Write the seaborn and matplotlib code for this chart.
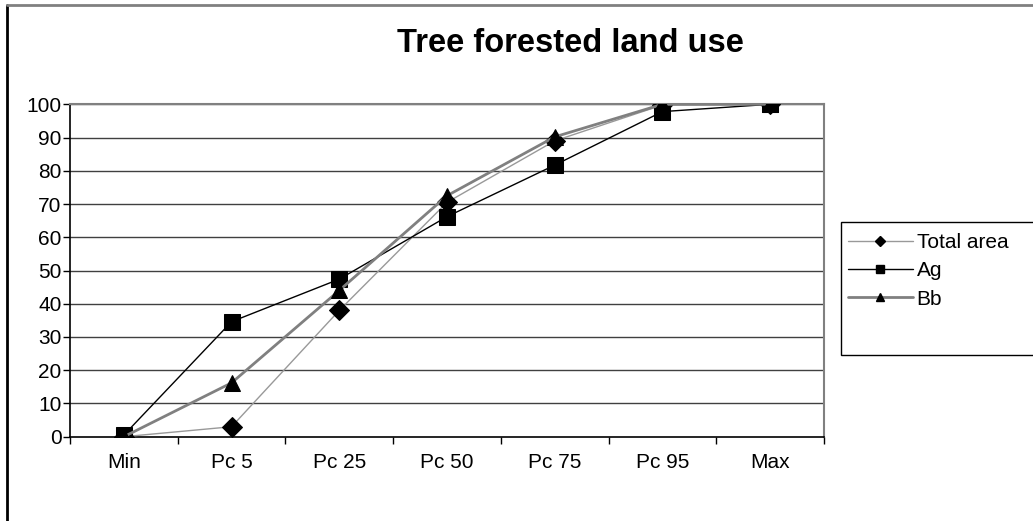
import numpy as np
import pandas as pd
import matplotlib
matplotlib.use("Agg")
import matplotlib.pyplot as plt
from matplotlib.lines import Line2D
from matplotlib.patches import Rectangle
import seaborn as sns

categories = ["Min", "Pc 5", "Pc 25", "Pc 50", "Pc 75", "Pc 95", "Max"]
total_area = [0, 3, 38, 70.5, 89, 99.8, 100]
ag = [0.5, 34.6, 47.4, 66.2, 81.7, 97.8, 100]
bb = [0, 16.2, 44, 72.5, 90.2, 100, 100]
yticks = list(range(0, 101, 10))

sns.set_style("white")
plt.rcParams['font.family'] = ['Liberation Sans', 'DejaVu Sans']
plt.rcParams['text.color'] = 'black'
plt.rcParams['xtick.color'] = 'black'
plt.rcParams['ytick.color'] = 'black'

W, H = 1033, 521
fig = plt.figure(figsize=(W / 100, H / 100), dpi=100)
ax = fig.add_axes([70 / W, 1 - 436.7 / H, (824 - 70) / W, (436.7 - 104.3) / H])

# series: (values, line colour, line width, marker, marker size)
series = [
    ("Total area", total_area, "#999999", 1.0, "D", 10),
    ("Ag", ag, "black", 1.0, "s", 11),
    ("Bb", bb, "#808080", 2.0, "^", 11),
]
df = pd.DataFrame({"cat": categories})
handles = []
for name, vals, col, lw, mk, ms in series:
    df[name] = vals
    sns.lineplot(data=df, x="cat", y=name, ax=ax, color=col, linewidth=lw,
                 marker=mk, markersize=ms, markerfacecolor="black",
                 markeredgecolor="black", sort=False, zorder=3)
    handles.append(Line2D([], [], color=col, linewidth=lw, marker=mk,
                          markersize=5.5, markerfacecolor="black",
                          markeredgecolor="black", label=name))

ax.set_xlim(-0.5, len(categories) - 0.5)
ax.set_ylim(0, 100)
ax.set_xlabel("")
ax.set_ylabel("")

# gridlines
for v in yticks[1:]:
    ax.axhline(v, color="#404040", linewidth=1.0, zorder=1)

fs = 15
ax.set_yticks(yticks)
ax.set_yticklabels([str(v) for v in yticks], fontsize=fs)
ax.set_xticks(np.arange(len(categories) + 1) - 0.5)
ax.set_xticklabels([])
ax.set_xticks(np.arange(len(categories)), minor=True)
ax.set_xticklabels(categories, minor=True, fontsize=fs)
ax.tick_params(axis="x", which="major", direction="out", length=5, width=1,
               color="black", bottom=True)
ax.tick_params(axis="x", which="minor", length=0, pad=12)
ax.tick_params(axis="y", direction="out", length=5, width=1, color="black",
               left=True, pad=1)

for side in ["top", "right"]:
    ax.spines[side].set_color("#808080")
    ax.spines[side].set_linewidth(1.5)
for side in ["left", "bottom"]:
    ax.spines[side].set_color("black")
    ax.spines[side].set_linewidth(1.2)

fig.text(570 / W, 1 - 43 / H, "Tree forested land use", ha="center",
         va="center", fontsize=23.5, fontweight="bold")

# legend box
fig.patches.append(Rectangle((841 / W, 1 - 355 / H), 300 / W, 133 / H,
                             transform=fig.transFigure, facecolor="white",
                             edgecolor="black", linewidth=1.0))
fig.legend(handles=handles, loc="upper left",
           bbox_to_anchor=(848 / W, 1 - 233 / H), frameon=False,
           fontsize=fs, handlelength=3.1, handletextpad=0.2,
           labelspacing=0.45, borderpad=0, borderaxespad=0)

# chart frame lines
fig.add_artist(Line2D([7 / W, 7 / W], [0, 1 - 4.5 / H], color="black",
                      linewidth=2, transform=fig.transFigure))
fig.add_artist(Line2D([7 / W, 1], [1 - 4.5 / H, 1 - 4.5 / H], color="#808080",
                      linewidth=2, transform=fig.transFigure))

fig.savefig("out.png", dpi=100)
